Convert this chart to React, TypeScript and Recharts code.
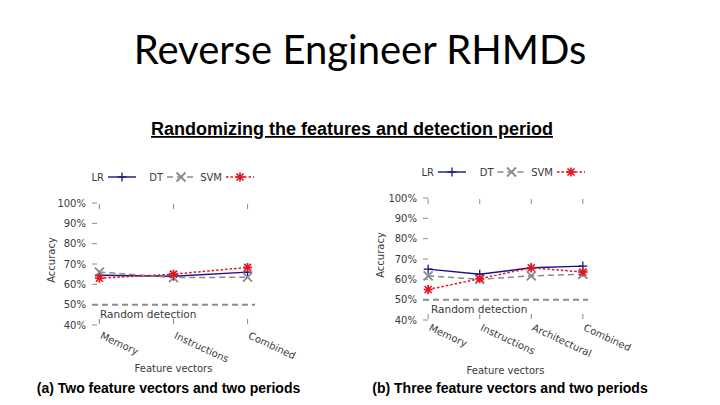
import React from 'react';
import { LineChart, Line, XAxis, YAxis, ReferenceLine } from 'recharts';

// panel (a)
const leftCategories = ['Memory', 'Instructions', 'Combined'];
const leftLR = [64.5, 64, 66];
const leftDT = [66, 63.3, 63.5];
const leftSVM = [63, 65, 68.3];

// panel (b)
const rightCategories = ['Memory', 'Instructions', 'Architectural', 'Combined'];
const rightLR = [65, 62.5, 65.7, 66.5];
const rightDT = [61.7, 60, 61.7, 62.5];
const rightSVM = [55, 60.3, 65.7, 63.6];

const yTicks = [40, 50, 60, 70, 80, 90, 100];
const seriesNames = ['LR', 'DT', 'SVM'];
const randomLevel = 50;

const styles: Record<string, { color: string; dash?: string; marker: string; width: number }> = {
  LR: { color: '#14148a', marker: 'plus', width: 1.4 },
  DT: { color: '#8a8a8a', dash: '6 4', marker: 'cross', width: 1.5 },
  SVM: { color: '#e3141e', dash: '2.5 2', marker: 'star', width: 1.5 },
};

const tickColor = '#8a8a8a';
const textColor = '#3a3a3a';

function Marker({ kind, cx, cy, color }: { kind: string; cx: number; cy: number; color: string }) {
  const s = 4.5;
  if (kind === 'plus') {
    return (
      <g stroke={color} strokeWidth={1.3}>
        <line x1={cx - s} y1={cy} x2={cx + s} y2={cy} />
        <line x1={cx} y1={cy - s} x2={cx} y2={cy + s} />
      </g>
    );
  }
  if (kind === 'cross') {
    return (
      <g stroke={color} strokeWidth={1.8}>
        <line x1={cx - s} y1={cy - s} x2={cx + s} y2={cy + s} />
        <line x1={cx - s} y1={cy + s} x2={cx + s} y2={cy - s} />
      </g>
    );
  }
  return (
    <g stroke={color} strokeWidth={1.7}>
      <line x1={cx - s} y1={cy} x2={cx + s} y2={cy} />
      <line x1={cx} y1={cy - s} x2={cx} y2={cy + s} />
      <line x1={cx - 3.5} y1={cy - 3.5} x2={cx + 3.5} y2={cy + 3.5} />
      <line x1={cx - 3.5} y1={cy + 3.5} x2={cx + 3.5} y2={cy - 3.5} />
    </g>
  );
}

type PanelProps = {
  left: number;
  top: number;
  width: number;
  height: number;
  margin: { top: number; right: number; bottom: number; left: number };
  categories: string[];
  lr: number[];
  dt: number[];
  svm: number[];
  legendX: number;
  legendY: number;
  legendStep: number;
  yTitleX: number;
  xTitleDy: number;
  labelDy: number;
};

function Panel(p: PanelProps) {
  const data = p.categories.map((c, i) => ({ i, name: c, LR: p.lr[i], DT: p.dt[i], SVM: p.svm[i] }));
  const idx = p.categories.map((_, i) => i);
  const xDomain = [-0.1, p.categories.length - 0.9];
  // x axes take 1px each, y axis 40px
  const plotLeft = p.margin.left + 40;
  const plotRight = p.width - p.margin.right;
  const plotTop = p.margin.top + 1;
  const plotBottom = p.height - p.margin.bottom - 1;

  const xTick = (t: any) => (
    <g>
      <line x1={t.x} y1={t.y - 6} x2={t.x} y2={t.y - 1} stroke={tickColor} />
      <text
        x={t.x}
        y={t.y + p.labelDy}
        transform={`rotate(25 ${t.x} ${t.y + p.labelDy})`}
        fontSize={10}
        fill={textColor}
      >
        {p.categories[t.payload.value]}
      </text>
    </g>
  );
  const topTick = (t: any) => <line x1={t.x} y1={t.y + 1} x2={t.x} y2={t.y + 6} stroke={tickColor} />;
  const yTick = (t: any) => (
    <g>
      <text x={t.x} y={t.y} dy={3.5} textAnchor="end" fontSize={10} fill={textColor}>
        {t.payload.value}%
      </text>
      <line x1={t.x + 6} y1={t.y} x2={t.x + 11} y2={t.y} stroke={tickColor} />
    </g>
  );
  const rightTick = (t: any) => <line x1={t.x - 5} y1={t.y} x2={t.x} y2={t.y} stroke={tickColor} />;

  return (
    <div style={{ position: 'absolute', left: p.left, top: p.top, width: p.width, height: p.height }}>
      <LineChart width={p.width} height={p.height} data={data} margin={p.margin}>
        <XAxis
          dataKey="i"
          type="number"
          domain={xDomain}
          ticks={idx}
          allowDataOverflow
          height={1}
          axisLine={false}
          tickLine={false}
          tickSize={0}
          tickMargin={0}
          interval={0}
          tick={xTick}
        />
        <XAxis
          xAxisId="top"
          orientation="top"
          dataKey="i"
          type="number"
          domain={xDomain}
          ticks={idx}
          allowDataOverflow
          height={1}
          axisLine={false}
          tickLine={false}
          tickSize={0}
          tickMargin={0}
          interval={0}
          tick={topTick}
        />
        <YAxis
          type="number"
          domain={[40, 100]}
          ticks={yTicks}
          allowDataOverflow
          width={40}
          axisLine={false}
          tickLine={false}
          tickSize={0}
          tickMargin={6}
          interval={0}
          tick={yTick}
        />
        <YAxis
          yAxisId="right"
          orientation="right"
          type="number"
          domain={[40, 100]}
          ticks={yTicks}
          allowDataOverflow
          width={0}
          axisLine={false}
          tickLine={false}
          tickSize={0}
          tickMargin={0}
          interval={0}
          tick={rightTick}
        />
        <ReferenceLine
          y={randomLevel}
          stroke="#8c8c8c"
          strokeWidth={2}
          strokeDasharray="6 4"
          label={(l: any) => (
            <text x={l.viewBox.x + 8} y={l.viewBox.y + 13} fontSize={10.5} fill={textColor}>
              Random detection
            </text>
          )}
        />
        {seriesNames.map((n) => (
          <Line
            key={n}
            dataKey={n}
            type="linear"
            stroke={styles[n].color}
            strokeWidth={styles[n].width}
            strokeDasharray={styles[n].dash}
            isAnimationActive={false}
            dot={(d: any) => (
              <Marker key={`${n}-${d.index}`} kind={styles[n].marker} cx={d.cx} cy={d.cy} color={styles[n].color} />
            )}
            activeDot={false}
          />
        ))}
      </LineChart>
      <svg
        width={p.width}
        height={p.height}
        style={{ position: 'absolute', left: 0, top: 0, pointerEvents: 'none' }}
        fontFamily="DejaVu Sans"
      >
        {seriesNames.map((n, k) => {
          const tx = p.legendX + k * p.legendStep;
          const st = styles[n];
          return (
            <g key={n}>
              <text x={tx} y={p.legendY} dy={3.5} textAnchor="end" fontSize={10} fill={textColor}>
                {n}
              </text>
              <line
                x1={tx + 4}
                y1={p.legendY}
                x2={tx + 32}
                y2={p.legendY}
                stroke={st.color}
                strokeWidth={st.width}
                strokeDasharray={st.dash}
              />
              <Marker kind={st.marker} cx={tx + 18} cy={p.legendY} color={st.color} />
            </g>
          );
        })}
        <text
          x={p.yTitleX}
          y={(plotTop + plotBottom) / 2 - 4}
          transform={`rotate(-90 ${p.yTitleX} ${(plotTop + plotBottom) / 2 - 4})`}
          textAnchor="middle"
          dominantBaseline="central"
          fontSize={10}
          fill={textColor}
        >
          Accuracy
        </text>
        <text
          x={(plotLeft + plotRight) / 2}
          y={plotBottom + p.xTitleDy}
          textAnchor="middle"
          dominantBaseline="central"
          fontSize={10}
          fill={textColor}
        >
          Feature vectors
        </text>
      </svg>
    </div>
  );
}

export default function App() {
  return (
    <div
      style={{
        position: 'absolute',
        left: 0,
        top: 0,
        width: 720,
        height: 405,
        background: '#fff',
        fontFamily: 'DejaVu Sans',
        overflow: 'hidden',
      }}
    >
      <svg width={720} height={405} style={{ position: 'absolute', left: 0, top: 0 }}>
        <text x={360} y={64} textAnchor="middle" fontFamily="Lato" fontSize={40} fill="#000">
          Reverse Engineer RHMDs
        </text>
        <text
          x={352}
          y={135}
          textAnchor="middle"
          fontFamily="Liberation Sans"
          fontWeight="bold"
          fontSize={18}
          fill="#000"
          style={{ textDecoration: 'underline' }}
        >
          Randomizing the features and detection period
        </text>
        <text x={168.5} y={393} textAnchor="middle" fontFamily="Liberation Sans" fontWeight="bold" fontSize={14} fill="#000">
          (a) Two feature vectors and two periods
        </text>
        <text x={510} y={393} textAnchor="middle" fontFamily="Liberation Sans" fontWeight="bold" fontSize={14} fill="#000">
          (b) Three feature vectors and two periods
        </text>
      </svg>
      <Panel
        left={0}
        top={150}
        width={340}
        height={230}
        margin={{ top: 52, right: 85, bottom: 54, left: 52 }}
        categories={leftCategories}
        lr={leftLR}
        dt={leftDT}
        svm={leftSVM}
        legendX={104}
        legendY={27}
        legendStep={59}
        yTitleX={51}
        xTitleDy={43}
        labelDy={13}
      />
      <Panel
        left={360}
        top={150}
        width={360}
        height={230}
        margin={{ top: 47, right: 132, bottom: 59, left: 23 }}
        categories={rightCategories}
        lr={rightLR}
        dt={rightDT}
        svm={rightSVM}
        legendX={74}
        legendY={22}
        legendStep={59.5}
        yTitleX={20}
        xTitleDy={50}
        labelDy={10}
      />
    </div>
  );
}
